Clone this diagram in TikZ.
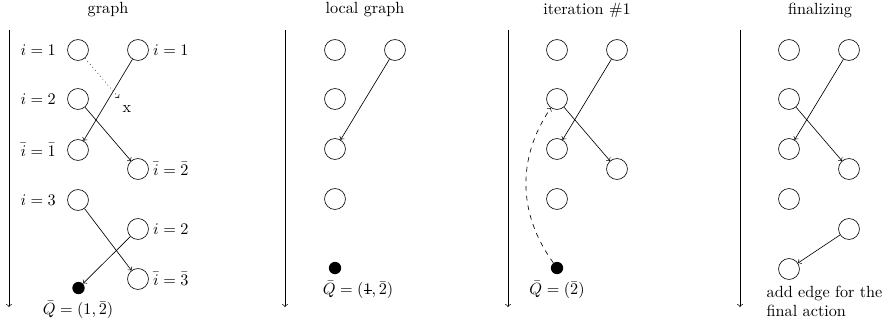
\documentclass[tikz,border=0pt]{standalone}
\usepackage{amsmath,amssymb}
\begin{document}
\begin{tikzpicture}[x=0.0217cm,y=-0.0217cm,
  st/.style={circle,draw,minimum size=12.9pt,inner sep=0pt},
  fin/.style={circle,fill=black,minimum size=7.6pt,inner sep=0pt}]
\useasboundingbox (0,0) rectangle (887,322);

% time axes
\foreach \x/\n in {9/1,285/2,508/3,740/4} {
  \coordinate (top\n) at (\x,30);
  \coordinate (bot\n) at (\x,307);
  \draw[->] (top\n) -- (bot\n);
}

% graph
\node (t1) at (108,10) {graph};
\node[st] (a1) at (78,50) {};
\node[st] (b1) at (138,50) {};
\node[st] (a2) at (78,99) {};
\node[st] (a3) at (78,150) {};
\node[st] (b2) at (138,169) {};
\node[st] (a4) at (78,200) {};
\node[st] (b3) at (138,229) {};
\node[st] (b4) at (138,279) {};
\node[fin] (q1) at (78.5,288) {};
\node[anchor=east] (la1) at (61.5,50) {$i=1$};
\node[anchor=east] (la2) at (61.5,99) {$i=2$};
\node[anchor=east] (la3) at (61.5,150) {$\bar{i}=\bar{1}$};
\node[anchor=east] (la4) at (61.5,200) {$i=3$};
\node[anchor=west] (lb1) at (147.5,50) {$i=1$};
\node[anchor=west] (lb2) at (147.5,169) {$\bar{i}=\bar{2}$};
\node[anchor=west] (lb3) at (147.5,229) {$i=2$};
\node[anchor=west] (lb4) at (147.5,279) {$\bar{i}=\bar{3}$};
\node (lq1) at (78,310) {$\bar{Q}=(1,\bar{2})$};
\coordinate (xe) at (119,98);
\node (xl) at (127,109) {x};
\draw[dotted,->] (a1) -- (xe);
\draw[->] (b1) -- (a3);
\draw[->] (a2) -- (b2);
\draw[->] (a4) -- (b4);
\draw[->] (b3) -- (q1);

% local graph
\node (t2) at (365,10) {local graph};
\node[st] (c1) at (335,50) {};
\node[st] (d1) at (395,50) {};
\node[st] (c2) at (335,99) {};
\node[st] (c3) at (335,149) {};
\node[st] (c4) at (335,199) {};
\node[fin] (q2) at (335,268) {};
\node (lq2) at (358,290) {$\bar{Q}=(\makebox[0pt][l]{\rule[0.25em]{0.5em}{0.4pt}}1,\bar{2})$};
\draw[->] (d1) -- (c3);

% iteration #1
\node (t3) at (587,10) {iteration \#1};
\node[st] (e1) at (557,50) {};
\node[st] (f1) at (617,50) {};
\node[st] (e2) at (557,99) {};
\node[st] (e3) at (557,149) {};
\node[st] (f2) at (617,169) {};
\node[st] (e4) at (557,199) {};
\node[fin] (q3) at (557,268) {};
\node (lq3) at (557,290) {$\bar{Q}=(\bar{2})$};
\draw[->] (f1) -- (e3);
\draw[->] (e2) -- (f2);
\draw[dashed,->] (q3) to[bend left=35] (e2);

% finalizing
\node (t4) at (820,10) {finalizing};
\node[st] (g1) at (789,50) {};
\node[st] (h1) at (849,50) {};
\node[st] (g2) at (789,99) {};
\node[st] (g3) at (789,149) {};
\node[st] (h2) at (849,169) {};
\node[st] (g4) at (789,199) {};
\node[st] (h3) at (849,229) {};
\node[st] (g5) at (789,269) {};
\node[anchor=north west,align=left] (note) at (761,280) {add edge for the\\final action};
\draw[->] (h1) -- (g3);
\draw[->] (g2) -- (h2);
\draw[->] (h3) -- (g5);
\end{tikzpicture}
\end{document}
